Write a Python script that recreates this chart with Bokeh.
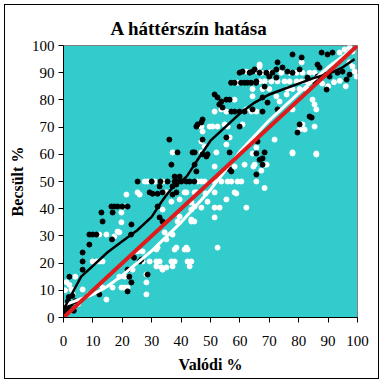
from bokeh.plotting import figure
from bokeh.models import Range1d, FixedTicker
from bokeh.embed import file_html
from bokeh.resources import INLINE

# ---- data ----
black_x = [0.5, 1, 1.5, 2, 2.5, 3, 3.5, 1.8, 4,
           2, 6.5, 6.5, 6.5, 8.8, 8.8, 9.9, 11.2, 12.2, 13.3, 12.9, 16.7, 16.3, 17.3, 18.4, 20, 21.8,
           16.5, 23, 23.1, 21.8, 22.4, 23.1, 21.8, 28.6, 24, 25.9, 26.5,
           25.2, 29.3, 30.3, 32, 30, 33, 35.4, 37.8, 38.8, 40.1, 41.8, 42.9, 44.5, 37.1, 38.4, 32.7,
           33.7, 37.1, 38.4, 32.7, 33.7, 32, 36.7, 38.8, 44.6, 47.3, 49, 56.5, 45.2, 44.6, 56.5, 57.1,
           65.6, 66.7, 65.6, 67.7, 67.7, 36.0, 47.3, 55.4, 45.2, 45.6, 46.9, 47.3, 59.9, 57.1, 58.2,
           59.9, 61.6, 51.4, 52.4, 53.7, 55.4, 56.5, 53, 54.1, 57, 58.2, 60.4, 61.6, 62.6, 63.8, 65.5,
           59.9, 60.9, 63.3, 64.3, 65, 66.7, 69, 71.1, 65.6, 68.4, 70, 72.4, 72.8, 72.4, 74.5, 76.2,
           77.9, 80.3, 77.9, 81, 87.8, 89.8, 91.5, 86.4, 87.1, 83, 85.4, 86.4, 88.8, 90.5, 93.2, 94.9,
           96.3, 97.3, 89.5, 67.7, 69.4, 64.3, 67.7, 72.8, 84.4, 80.3, 79.6, 66, 68.4, 83.7, 37.8,
           39.5, 48.6, 43.9]
black_y = [2, 4, 6, 3, 5, 8, 2.5, 7.5, 6,
           15, 17.6, 20.6, 23.9, 26.8, 30.5, 30.5, 30.5, 8.5, 35.3, 38.6, 38.6, 40.8, 40.8, 40.8, 40.8, 40.8,
           28.7, 30.5, 34.2, 9.6, 15, 12.9, 17.6, 15.8, 22, 20.6, 21.3,
           50, 46, 45.5, 45.5, 50, 50, 50, 50, 50, 50, 50, 50, 50, 48.2, 48.9, 48.2,
           46, 45.2, 46, 36.8, 35.3, 40.8, 56.2, 60.7, 60.7, 60, 60, 60.7, 53.7, 56.2, 54.4, 53.7,
           52.6, 58, 60.3, 58.5, 56.2, 65.4, 65.4, 66.2, 70.2, 71, 71.7, 72.8, 70.2, 75.7, 75.7,
           75.7, 75.7, 82, 80.9, 79.4, 80.1, 80.1, 78.3, 77.2, 86.3, 86.3, 86.3, 86.3, 86.3, 86.3, 86.3,
           90, 90.4, 90, 90.4, 91.2, 90, 90, 90, 86.8, 84.9, 88.6, 88.2, 93.8, 91.2, 91.9, 90.4,
           90, 91.2, 96.7, 95.6, 97.4, 96.7, 97.4, 93, 91.9, 88.2, 86.8, 88.6, 89.3, 88.6, 90, 90.4,
           87.5, 89.3, 83.8, 80.9, 79, 76.5, 75.7, 76.5, 73.5, 71, 68, 64.7, 60.7, 73.9, 51.8,
           51.8, 59.2, 60.7]

white_x = [0.5, 1, 2, 2.7, 3.1, 4, 6.5, 8.8, 5, 9.9, 11.2, 12.2, 13.3, 12.2, 14.6, 19, 17.3, 18.4,
           19.7, 19.7, 20.7, 21.4, 25.9, 25.2, 13.3, 16.7, 19.7, 20.7, 21.8, 14.6, 19, 20.7, 23.5,
           28.2, 28.2, 28.2, 26.9, 29.3, 31.6, 32.7, 33.7, 25.2, 26.9, 31.6, 32, 31.6, 27.6, 28.6, 31,
           33.3, 35, 36.7, 37.8, 42.2, 43.5, 42.9, 37.1, 37.8, 38.4, 41.2, 41.8, 42.2, 52.4, 37.1, 35,
           34.4, 38.8, 43.5, 44.5, 43.5, 51.4, 39.5, 33.7, 43.5, 46.9, 51.4, 53.1, 62.2, 44.6, 43.5,
           36.7, 39.5, 49, 55.4, 35, 41.2, 41.8, 44.6, 45.2, 51.4, 58.2, 48.3, 58.8, 33.7, 45.6, 46.9,
           48, 53.7, 55.8, 57.1, 59.2, 60.5, 51.4, 65.6, 68.4, 51.4, 58.2, 61.6, 65, 64.6, 67.3, 68.4,
           69.1, 64.3, 77.9, 86, 37.1, 52, 46.9, 55.4, 46.9, 48, 65.6, 65.6, 71.8, 56.5, 47.3, 49.7,
           50.7, 52.4, 55.8, 54.8, 60.9, 46.9, 51.4, 53.7, 55.4, 62.2, 63.9, 65.6, 77.9, 84.7, 85.4,
           86, 81.3, 80.3, 82, 85.4, 58.2, 64.3, 72.4, 73.5, 75.9, 59.2, 66, 62.2, 66.7, 67.3, 66.7,
           81, 70, 70.7, 74.1, 76.9, 79.3, 81.3, 83.7, 85.4, 66.7, 68.4, 70.7, 72.8, 75.2, 76.9, 79.3,
           81, 82.7, 64.3, 67.7, 70, 76.2, 77.9, 80.3, 82.7, 93.9, 95.6, 97.3, 98.3, 97.3, 98.3, 99,
           99.7, 88, 90, 92, 94, 96, 77.9, 86]
white_y = [10, 13, 12, 10.3, 8.5, 15, 10.3, 8.5, 5, 20.6, 20.6, 20.6, 20.6, 30.5, 30.5, 31.3, 29.8, 31.6,
           35, 38.6, 40.8, 45.2, 45.2, 46, 11, 11, 11, 11, 11, 6.6, 15, 15, 17.6,
           15.8, 12.9, 8.5, 20.6, 20.6, 20.6, 20.6, 17.6, 24.3, 24.3, 18.8, 25.7, 25, 50, 50, 50,
           18.4, 18.4, 20.6, 20.6, 20.6, 20.6, 18.8, 18.8, 25, 25.7, 25, 25.7, 25, 25.7, 30.5, 28.7,
           31.3, 35.3, 35.3, 35.3, 36, 36.8, 37.1, 39.7, 39.7, 40.4, 40.4, 40.4, 40.4, 40.8, 42.3,
           42.6, 43.4, 42.6, 43.4, 46, 46, 46, 46, 46, 46, 46, 45.6, 45.6, 50, 50, 50,
           50, 50, 50, 50, 50, 50, 50, 50, 47.6, 55.5, 55.5, 56.2, 56.2, 55.5, 54, 56.2,
           56.2, 60.3, 60.3, 60.3, 60.7, 60.7, 60.7, 63.6, 64.7, 62.9, 65.4, 62.5, 65.4, 66.2, 68.4, 70.2,
           70.2, 70.2, 70.2, 71, 71, 70.2, 75.7, 76.5, 75.7, 76.5, 75.7, 75.7, 76.5, 80.1, 78.3,
           76.5, 71, 69.1, 69.1, 70.2, 80.1, 81.3, 81.3, 79.4, 82, 86.3, 90.4, 90.4, 93, 90, 92.3,
           93.8, 90, 90, 90, 90, 90, 90, 90, 90, 86.8, 86.8, 86.8, 86.8, 86.8, 86.8, 86.8,
           86.8, 86.8, 84, 84, 84, 84, 84, 84, 84, 97.4, 98.5, 99.3, 97.8, 93.8, 92.3, 90.4,
           88.6, 86, 85, 86.5, 87, 85, 60.7, 59.9]

black_curve_x = [0, 3, 6, 10, 15, 20, 25, 30, 33, 35, 38, 40, 42, 45, 50, 55, 60, 65, 70, 75, 80, 85, 90, 95, 99]
black_curve_y = [3, 9, 15, 19, 24, 28, 32, 37, 42, 45, 49, 50, 52, 57, 65, 70, 75, 79, 82, 84, 86, 88, 89.5, 92, 95]

white_curve_x = [0, 5, 10, 15, 20, 30, 40, 50, 55, 60, 70, 80, 90, 98]
white_curve_y = [4.5, 6.5, 8.5, 11.5, 15.5, 24.5, 35, 47, 54, 61, 72.5, 82.5, 92, 98.5]

diag_x = [0, 100]
diag_y = [0, 100]

ticks = [0, 10, 20, 30, 40, 50, 60, 70, 80, 90, 100]

TEAL = "#33CCCC"
RED = "#E01B1B"

p = figure(frame_width=294, frame_height=272,
           min_border_left=58, min_border_right=21, min_border_top=40, min_border_bottom=61,
           x_range=Range1d(0, 100), y_range=Range1d(0, 100),
           toolbar_location=None, output_backend="svg",
           background_fill_color=TEAL, border_fill_color="white",
           title="A háttérszín hatása")
p.styles = {"border": "1px solid black", "margin-left": "4px", "margin-top": "4px"}

p.title.align = "left"
p.title.offset = 47
p.title.text_font = "Liberation Serif"
p.title.text_font_style = "bold"
p.title.text_font_size = "19px"
p.title.standoff = 14
p.title.text_color = "black"

p.outline_line_color = "#808080"
p.grid.visible = False

for ax in (p.xaxis[0], p.yaxis[0]):
    ax.ticker = FixedTicker(ticks=ticks)
    ax.axis_line_color = "black"
    ax.major_tick_line_color = "black"
    ax.major_tick_out = 5
    ax.major_tick_in = 0
    ax.minor_tick_line_color = None
    ax.major_label_text_font = "Liberation Serif"
    ax.major_label_text_font_size = "15px"
    ax.major_label_text_color = "black"
    ax.axis_label_text_font = "Liberation Serif"
    ax.axis_label_text_font_style = "bold"
    ax.axis_label_text_font_size = "16px"
    ax.axis_label_text_color = "black"

p.xaxis.axis_label = "Valódi %"
p.yaxis.axis_label = "Becsült %"
p.xaxis.major_label_standoff = 13
p.yaxis.major_label_standoff = 4
p.xaxis.axis_label_standoff = 7
p.yaxis.axis_label_standoff = 3

p.scatter(white_x, white_y, size=5, fill_color="white", line_color="white")
p.scatter(black_x, black_y, size=5, fill_color="black", line_color="black")
p.line(white_curve_x, white_curve_y, line_color="white", line_width=3)
p.line(black_curve_x, black_curve_y, line_color="black", line_width=2.5)
p.line(diag_x, diag_y, line_color=RED, line_width=4)

open("out.html", "w").write(file_html(p, INLINE))
